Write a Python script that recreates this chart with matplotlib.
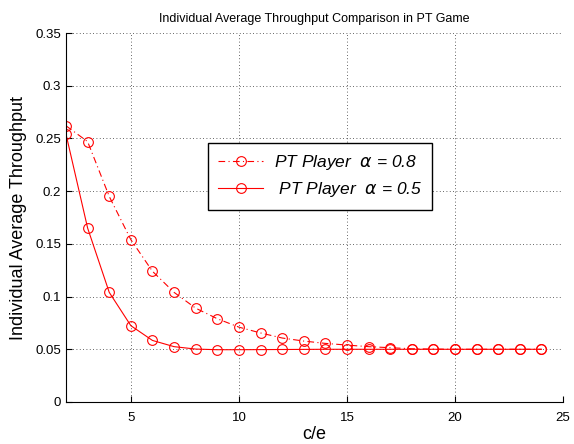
import matplotlib
matplotlib.use("Agg")
import matplotlib.pyplot as plt

plt.rcParams['font.family'] = ['Liberation Sans', 'DejaVu Sans']

ce = list(range(2, 25))
alpha08 = [0.262, 0.247, 0.195, 0.154, 0.124, 0.104, 0.089, 0.079, 0.071,
           0.0655, 0.0607, 0.0578, 0.0556, 0.0540, 0.0525, 0.0515, 0.0505,
           0.0502, 0.0500, 0.0500, 0.0500, 0.0500, 0.0500]
alpha05 = [0.254, 0.165, 0.104, 0.0724, 0.0584, 0.0525, 0.0502, 0.0496,
           0.0496, 0.0497, 0.0498, 0.0499, 0.0500, 0.0500, 0.0500, 0.0500,
           0.0500, 0.0500, 0.0500, 0.0500, 0.0500, 0.0500, 0.0500]

xticks = [5, 10, 15, 20, 25]
yticks = [0, 0.05, 0.1, 0.15, 0.2, 0.25, 0.3, 0.35]
ytick_labels = ['0', '0.05', '0.1', '0.15', '0.2', '0.25', '0.3', '0.35']

fig = plt.figure(figsize=(5.74, 4.44), dpi=100)
ax = fig.add_axes([0.115, 0.0946, 0.866, 0.831])

ax.plot(ce, alpha08, color='red', linestyle=(0, (6, 3, 1, 3)), linewidth=0.8,
        marker='o', markersize=7, markerfacecolor='none', markeredgewidth=0.8,
        label=r'PT Player  $\alpha$ = 0.8')
ax.plot(ce, alpha05, color='red', linestyle='-', linewidth=0.8,
        marker='o', markersize=7, markerfacecolor='none', markeredgewidth=0.8,
        label=r' PT Player  $\alpha$ = 0.5')

ax.set_xlim(2, 25)
ax.set_ylim(0, 0.35)
ax.set_xticks(xticks)
ax.set_yticks(yticks)
ax.set_yticklabels(ytick_labels)
ax.tick_params(direction='in', length=4, labelsize=9.5, width=0.8)
ax.tick_params(axis='x', pad=7)
ax.grid(True, linestyle=(0, (1, 3)), color='#333333', linewidth=0.6)
ax.spines['top'].set_visible(False)
ax.spines['right'].set_visible(False)
ax.spines['left'].set_linewidth(0.8)
ax.spines['bottom'].set_linewidth(0.8)

ax.set_title('Individual Average Throughput Comparison in PT Game', fontsize=9, pad=8)
ax.set_xlabel('c/e', fontsize=13, labelpad=2)
ax.set_ylabel('Individual Average Throughput', fontsize=13, labelpad=6)

leg = ax.legend(loc='center', bbox_to_anchor=(0.511, 0.612), fancybox=False,
                framealpha=1, edgecolor='black', prop={'style': 'italic', 'size': 12.5},
                handlelength=2.6, handletextpad=0.6, borderpad=0.6, labelspacing=0.45)
leg.get_frame().set_linewidth(1.0)

fig.savefig('out.png', dpi=100)
